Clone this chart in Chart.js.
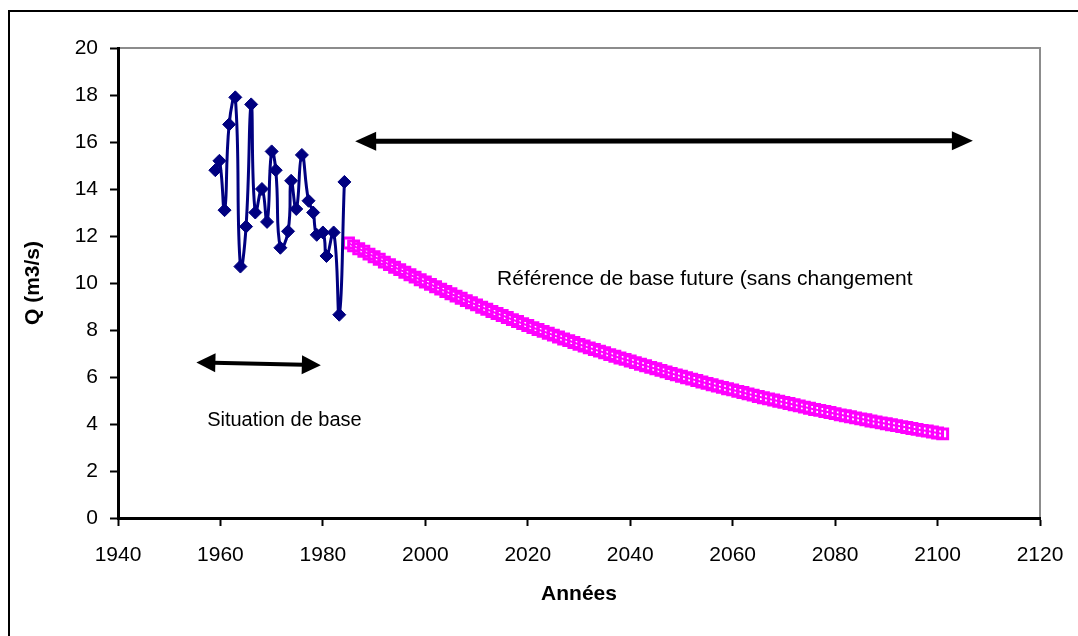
<!DOCTYPE html>
<html>
<head>
<meta charset="utf-8">
<script src="https://cdn.jsdelivr.net/npm/chart.js@4.4.1/dist/chart.umd.min.js"></script>
<style>
html,body{margin:0;padding:0;background:#ffffff;}
#wrap{width:1078px;height:636px;position:relative;}
</style>
</head>
<body>
<div id="wrap"><canvas id="c" width="1078" height="636"></canvas></div>
<script>
// ---- Data ----
const observedYears = [1959.0, 1959.8, 1960.8, 1961.7, 1962.9, 1963.9, 1965.0, 1966.0, 1966.8, 1968.1,
  1969.1, 1970.0, 1970.8, 1971.7, 1973.2, 1973.8, 1974.8, 1975.9, 1977.2, 1978.1,
  1978.8, 1980.0, 1980.7, 1982.1, 1983.2, 1984.2];
const observedQ = [14.8, 15.2, 13.1, 16.75, 17.9, 10.7, 12.4, 17.6, 13.0, 14.0,
  12.6, 15.6, 14.8, 11.5, 12.2, 14.35, 13.15, 15.45, 13.5, 13.0,
  12.05, 12.15, 11.15, 12.15, 8.65, 14.3];

const futureYears = [1985, 1986, 1987, 1988, 1989, 1990, 1991, 1992, 1993, 1994,
  1995, 1996, 1997, 1998, 1999, 2000, 2001, 2002, 2003, 2004,
  2005, 2006, 2007, 2008, 2009, 2010, 2011, 2012, 2013, 2014,
  2015, 2016, 2017, 2018, 2019, 2020, 2021, 2022, 2023, 2024,
  2025, 2026, 2027, 2028, 2029, 2030, 2031, 2032, 2033, 2034,
  2035, 2036, 2037, 2038, 2039, 2040, 2041, 2042, 2043, 2044,
  2045, 2046, 2047, 2048, 2049, 2050, 2051, 2052, 2053, 2054,
  2055, 2056, 2057, 2058, 2059, 2060, 2061, 2062, 2063, 2064,
  2065, 2066, 2067, 2068, 2069, 2070, 2071, 2072, 2073, 2074,
  2075, 2076, 2077, 2078, 2079, 2080, 2081, 2082, 2083, 2084,
  2085, 2086, 2087, 2088, 2089, 2090, 2091, 2092, 2093, 2094,
  2095, 2096, 2097, 2098, 2099, 2100, 2101];
const futureQ = [11.70, 11.58, 11.46, 11.35, 11.23, 11.12, 11.01, 10.89, 10.78, 10.67,
  10.57, 10.46, 10.35, 10.25, 10.14, 10.04, 9.94, 9.84, 9.74, 9.64,
  9.54, 9.44, 9.35, 9.25, 9.16, 9.07, 8.97, 8.88, 8.79, 8.70,
  8.62, 8.53, 8.44, 8.36, 8.27, 8.19, 8.10, 8.02, 7.94, 7.86,
  7.78, 7.70, 7.62, 7.55, 7.47, 7.39, 7.32, 7.24, 7.17, 7.10,
  7.03, 6.95, 6.88, 6.81, 6.75, 6.68, 6.61, 6.54, 6.48, 6.41,
  6.35, 6.28, 6.22, 6.15, 6.09, 6.03, 5.97, 5.91, 5.85, 5.79,
  5.73, 5.67, 5.61, 5.56, 5.50, 5.45, 5.39, 5.34, 5.28, 5.23,
  5.17, 5.12, 5.07, 5.02, 4.97, 4.92, 4.87, 4.82, 4.77, 4.72,
  4.67, 4.62, 4.58, 4.53, 4.49, 4.44, 4.39, 4.35, 4.31, 4.26,
  4.22, 4.18, 4.13, 4.09, 4.05, 4.01, 3.97, 3.93, 3.89, 3.85,
  3.81, 3.77, 3.73, 3.70, 3.66, 3.62, 3.58];

const xTickValues = [1940, 1960, 1980, 2000, 2020, 2040, 2060, 2080, 2100, 2120];
const yTickValues = [0, 2, 4, 6, 8, 10, 12, 14, 16, 18, 20];

const xTitle = 'Années';
const yTitle = 'Q (m3/s)';
const labelBase = 'Situation de base';
const labelFuture = 'Référence de base future (sans changement';

// ---- Annotation placement (data units) ----
const arrowBase = { from: [1955.3, 6.62], to: [1979.6, 6.5] };
const arrowFuture = { from: [1986.3, 16.03], to: [2106.9, 16.05] };
const textBase = { at: [1957.4, 4.13] };
const textFuture = { at: [2014.0, 10.17] };

const FONT = '"Liberation Sans", Arial, sans-serif';
const FS = 21;
Chart.defaults.font.family = FONT;
Chart.defaults.color = '#000';

const toXY = (xs, ys) => xs.map((x, i) => ({ x: x, y: ys[i] }));

function drawArrow(ctx, x1, y1, x2, y2, lw, headLen, headW) {
  const ang = Math.atan2(y2 - y1, x2 - x1);
  const c = Math.cos(ang), s = Math.sin(ang);
  ctx.save();
  ctx.strokeStyle = '#000';
  ctx.fillStyle = '#000';
  ctx.lineWidth = lw;
  ctx.beginPath();
  ctx.moveTo(x1 + c * (headLen - 2), y1 + s * (headLen - 2));
  ctx.lineTo(x2 - c * (headLen - 2), y2 - s * (headLen - 2));
  ctx.stroke();
  const head = (tx, ty, dir) => {
    const bx = tx - dir * c * headLen, by = ty - dir * s * headLen;
    ctx.beginPath();
    ctx.moveTo(tx, ty);
    ctx.lineTo(bx - s * headW / 2, by + c * headW / 2);
    ctx.lineTo(bx + s * headW / 2, by - c * headW / 2);
    ctx.closePath();
    ctx.fill();
  };
  head(x2, y2, 1);
  head(x1, y1, -1);
  ctx.restore();
}

const decorPlugin = {
  id: 'decor',
  beforeDraw(chart) {
    const ctx = chart.ctx;
    const a = chart.chartArea;
    ctx.save();
    ctx.fillStyle = '#fff';
    ctx.fillRect(0, 0, chart.width, chart.height);
    // outer frame (left and top edges visible in the crop)
    ctx.strokeStyle = '#000';
    ctx.lineWidth = 2;
    ctx.beginPath();
    ctx.moveTo(9, 636);
    ctx.lineTo(9, 11);
    ctx.lineTo(1078, 11);
    ctx.stroke();
    // plot area top/right border
    ctx.strokeStyle = '#8c8c8c';
    ctx.lineWidth = 2;
    ctx.beginPath();
    ctx.moveTo(a.left, a.top);
    ctx.lineTo(a.right, a.top);
    ctx.lineTo(a.right, a.bottom);
    ctx.stroke();
    ctx.restore();
  },
  afterDraw(chart) {
    const ctx = chart.ctx;
    const xs = chart.scales.x, ys = chart.scales.y;
    const px = v => xs.getPixelForValue(v), py = v => ys.getPixelForValue(v);
    drawArrow(ctx, px(arrowBase.from[0]), py(arrowBase.from[1]), px(arrowBase.to[0]), py(arrowBase.to[1]), 4, 19, 19);
    drawArrow(ctx, px(arrowFuture.from[0]), py(arrowFuture.from[1]), px(arrowFuture.to[0]), py(arrowFuture.to[1]), 5, 21, 19);
    ctx.save();
    ctx.fillStyle = '#000';
    ctx.textAlign = 'left';
    ctx.textBaseline = 'middle';
    ctx.font = '20px ' + FONT;
    ctx.fillText(labelBase, px(textBase.at[0]), py(textBase.at[1]));
    ctx.font = FS + 'px ' + FONT;
    ctx.fillText(labelFuture, px(textFuture.at[0]), py(textFuture.at[1]));
    ctx.restore();
  }
};

new Chart(document.getElementById('c'), {
  type: 'scatter',
  data: {
    datasets: [
      {
        label: 'Situation de base',
        data: toXY(observedYears, observedQ),
        showLine: true,
        borderColor: '#000080',
        backgroundColor: '#000080',
        borderWidth: 3,
        tension: 0.5,
        pointStyle: 'rectRot',
        pointRadius: 6.5,
        pointBorderWidth: 1,
        pointBackgroundColor: '#000080',
        pointBorderColor: '#000080',
        order: 0
      },
      {
        label: 'Référence de base future',
        data: toXY(futureYears, futureQ),
        showLine: true,
        borderColor: '#ff00ff',
        backgroundColor: '#ffffff',
        borderWidth: 2,
        tension: 0,
        pointStyle: 'rect',
        pointRadius: 7,
        pointBorderWidth: 3,
        pointBackgroundColor: 'rgba(255,255,255,0)',
        pointBorderColor: '#ff00ff',
        order: 1
      }
    ]
  },
  options: {
    responsive: false,
    animation: false,
    devicePixelRatio: 1,
    layout: { padding: { left: 0, right: 38, top: 48, bottom: 0 } },
    plugins: { legend: { display: false }, tooltip: { enabled: false } },
    scales: {
      x: {
        type: 'linear',
        min: 1940,
        max: 2120,
        afterBuildTicks: s => { s.ticks = xTickValues.map(v => ({ value: v })); },
        afterFit: s => { s.height = 118; s.paddingLeft = 0; s.paddingRight = 0; },
        ticks: { font: { size: FS }, color: '#000', padding: 17, maxRotation: 0, autoSkip: false, callback: v => String(v) },
        grid: { display: true, drawOnChartArea: false, drawTicks: true, tickLength: 8, tickColor: '#000', tickWidth: 2 },
        border: { display: true, color: '#000', width: 3 },
        title: { display: true, text: xTitle, font: { size: FS, weight: 'bold' }, color: '#000', padding: { top: 0, bottom: 29 } }
      },
      y: {
        type: 'linear',
        min: 0,
        max: 20,
        afterBuildTicks: s => { s.ticks = yTickValues.map(v => ({ value: v })); },
        afterFit: s => { s.width = 118; s.paddingTop = 0; s.paddingBottom = 0; },
        ticks: { font: { size: FS }, color: '#000', padding: 12, autoSkip: false, callback: v => String(v) },
        grid: { display: true, drawOnChartArea: false, drawTicks: true, tickLength: 8, tickColor: '#000', tickWidth: 2 },
        border: { display: true, color: '#000', width: 3 },
        title: { display: true, text: yTitle, font: { size: FS, weight: 'bold' }, color: '#000', padding: { top: 21, bottom: 0 } }
      }
    }
  },
  plugins: [decorPlugin]
});
</script>
</body>
</html>
